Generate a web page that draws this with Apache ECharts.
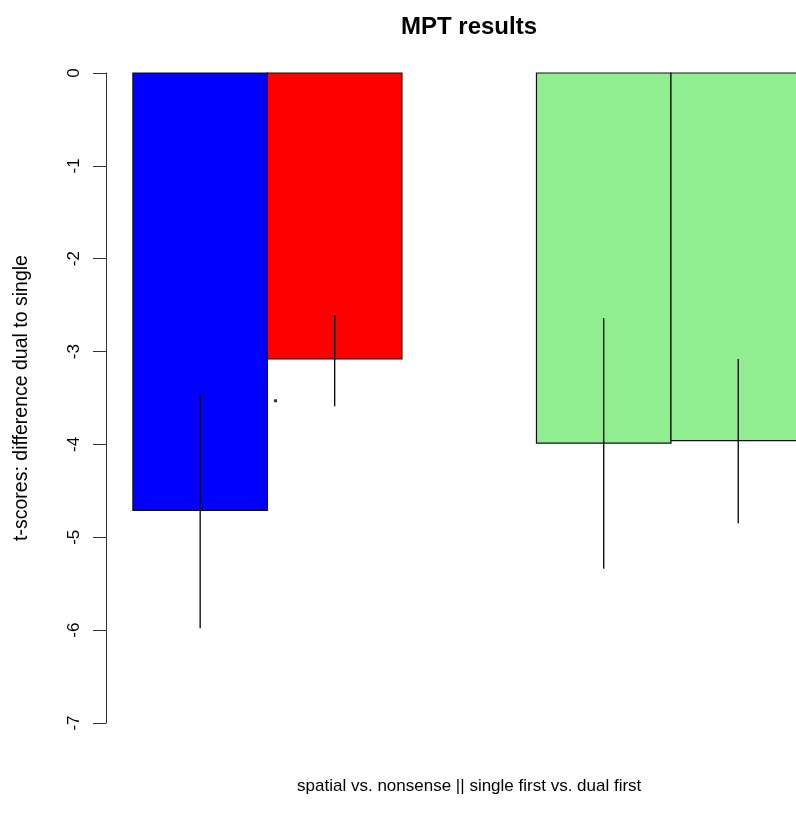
<!DOCTYPE html>
<html>
<head>
<meta charset="utf-8">
<script src="https://cdn.jsdelivr.net/npm/echarts@6/dist/echarts.min.js"></script>
<style>
html, body { margin: 0; padding: 0; background: #fff; }
#main { width: 796px; height: 825px; }
</style>
</head>
<body>
<div id="main"></div>
<script>
// bars laid out like R barplot: each bar is 1 unit wide, gap of 1 between groups
var barLeft = [1, 2, 4, 5];
var barValues = [-4.71, -3.08, -3.985, -3.96];
var barColors = ['#0000ff', '#ff0000', '#90ee90', '#90ee90'];
// error bars (upper / lower end)
var errTop = [-3.46, -2.61, -2.64, -3.08];
var errBottom = [-5.98, -3.59, -5.34, -4.85];
// the little "." significance mark
var dotPoints = [[2.06, -3.53]];

var barData = [];
var errData = [];
for (var i = 0; i < barLeft.length; i++) {
	barData.push([barLeft[i], barValues[i]]);
	errData.push([barLeft[i] + 0.5, errTop[i], errBottom[i]]);
}

var myChart = echarts.init(document.getElementById('main'));
myChart.setOption({
	animation: false,
	backgroundColor: '#fff',
	textStyle: { fontFamily: 'Liberation Sans, Arial, sans-serif' },
	title: {
		text: 'MPT results',
		left: 396,
		top: 10,
		textStyle: { fontSize: 24, fontWeight: 'bold', color: '#000', fontFamily: 'Liberation Sans' }
	},
	grid: {
		left: 106,
		top: 73,
		width: 726.4,
		height: 650,
		outerBoundsMode: 'none'
	},
	xAxis: {
		type: 'value',
		min: 0.8,
		max: 6.2,
		axisLine: { show: false },
		axisTick: { show: false },
		axisLabel: { show: false },
		splitLine: { show: false },
		name: 'spatial vs. nonsense || single first vs. dual first',
		nameLocation: 'middle',
		nameGap: 55,
		nameTextStyle: { fontSize: 17, color: '#000' }
	},
	yAxis: {
		type: 'value',
		min: -7,
		max: 0,
		interval: 1,
		axisLine: { show: true, lineStyle: { color: '#333', width: 1 } },
		axisTick: { show: true, inside: false, length: 13, lineStyle: { color: '#333' } },
		axisLabel: { rotate: 90, fontSize: 17, color: '#000', margin: 23 },
		splitLine: { show: false },
		name: 't-scores: difference dual to single',
		nameLocation: 'middle',
		nameRotate: 90,
		nameGap: 74,
		nameTextStyle: { fontSize: 19.5, color: '#000' }
	},
	series: [{
		type: 'custom',
		data: barData,
		renderItem: function(params, api) {
			var l = api.value(0);
			var v = api.value(1);
			var p0 = api.coord([l, 0]);
			var p1 = api.coord([l + 1, v]);
			return {
				type: 'rect',
				shape: { x: p0[0], y: p0[1], width: p1[0] - p0[0], height: p1[1] - p0[1] },
				style: { fill: barColors[params.dataIndex], stroke: '#111', lineWidth: 1.2 }
			};
		}
	}, {
		type: 'custom',
		data: errData,
		renderItem: function(params, api) {
			var a = api.coord([api.value(0), api.value(1)]);
			var b = api.coord([api.value(0), api.value(2)]);
			return {
				type: 'line',
				shape: { x1: a[0], y1: a[1], x2: b[0], y2: b[1] },
				style: { stroke: '#000', lineWidth: 1.3 }
			};
		},
		z: 3
	}, {
		type: 'scatter',
		data: dotPoints,
		symbol: 'rect',
		symbolSize: 3,
		itemStyle: { color: '#000' },
		z: 4
	}]
});
</script>
</body>
</html>
